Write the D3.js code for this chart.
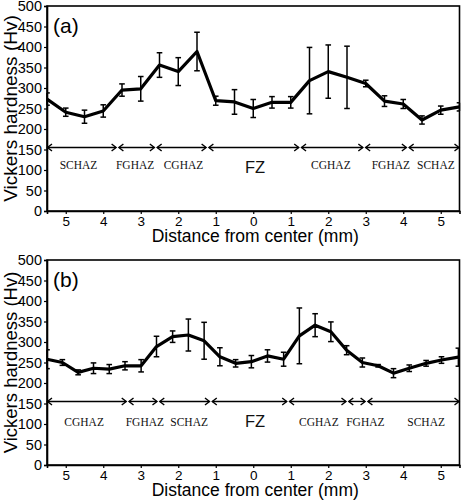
<!DOCTYPE html>
<html>
<head>
<meta charset="utf-8">
<script src="https://cdn.jsdelivr.net/npm/d3@7"></script>
<style>
  html, body { margin: 0; padding: 0; background: #fff; }
  svg { display: block; }
</style>
</head>
<body>
<div id="chart"></div>
<script>
// ---------- data ----------
const yTicks = [0, 50, 100, 150, 200, 250, 300, 350, 400, 450, 500];
const xTicks = [-5, -4, -3, -2, -1, 0, 1, 2, 3, 4, 5];

// Panel (a)
const posA = [-5.5, -5, -4.5, -4, -3.5, -3, -2.5, -2, -1.5, -1, -0.5, 0, 0.5, 1, 1.5, 2, 2.5, 3, 3.5, 4, 4.5, 5, 5.5];
const hvA  = [273, 241, 230, 244, 295, 298, 356, 340, 389, 269, 266, 250, 265, 265, 318, 340, 326, 311, 268, 261, 222, 246, 254];
const errA = [15, 10, 16, 15, 15, 30, 30, 34, 47, 11, 30, 22, 14, 14, 81, 65, 76, 8, 13, 11, 10, 10, 10];
const zoneEdgesA  = [-5.5, -3.62, -2.6, -1.22, 1.25, 2.96, 4.12, 5.5];
const zoneNamesA  = ["SCHAZ", "FGHAZ", "CGHAZ", "FZ", "CGHAZ", "FGHAZ", "SCHAZ"];
const zoneLabelXA = [-4.66, -3.15, -1.86, 0.05, 2.07, 3.67, 4.87];

// Panel (b)
const posB = [-5.5, -5.09, -4.67, -4.26, -3.84, -3.42, -2.99, -2.58, -2.15, -1.73, -1.31, -0.89, -0.47, -0.05, 0.38, 0.81, 1.23, 1.65, 2.07, 2.49, 2.91, 3.33, 3.74, 4.16, 4.61, 5.02, 5.47];
const hvB  = [258, 250, 226, 236, 234, 242, 242, 289, 313, 317, 303, 264, 248, 252, 266, 258, 315, 341, 325, 280, 250, 242, 224, 236, 248, 256, 263];
const errB = [23, 7, 6, 13, 11, 10, 15, 25, 14, 39, 45, 22, 9, 15, 15, 17, 68, 28, 24, 11, 11, 3, 11, 8, 7, 8, 22];
const zoneEdgesB  = [-5.5, -3.35, -2.53, -1.13, 0.93, 2.51, 3.02, 5.5];
const zoneNamesB  = ["CGHAZ", "FGHAZ", "SCHAZ", "FZ", "CGHAZ", "FGHAZ", "SCHAZ"];
const zoneLabelXB = [-4.51, -2.89, -1.71, 0.05, 1.75, 2.99, 4.61];

const zoneLineHv = 155;

// ---------- drawing ----------
const W = 463, H = 500;
const svg = d3.select("#chart").append("svg").attr("width", W).attr("height", H);

const SANS = "Arial, 'Liberation Sans', Helvetica, sans-serif";
const SERIF = "'Times New Roman', 'Liberation Serif', Times, serif";

function panel(cfg) {
  const left = 47, right = 459.5;
  const x = d3.scaleLinear().domain([-5.5, 5.5]).range([left, right]);
  const y = d3.scaleLinear().domain([0, 500]).range([cfg.bottom, cfg.top]);
  const g = svg.append("g");

  // frame
  g.append("rect")
    .attr("x", left).attr("y", cfg.top)
    .attr("width", right - left).attr("height", cfg.bottom - cfg.top)
    .attr("fill", "none").attr("stroke", "#000").attr("stroke-width", 1.6);

  // y axis
  const ya = g.append("g").attr("transform", `translate(${left},0)`)
    .call(d3.axisLeft(y).tickValues(yTicks).tickSize(3).tickPadding(2));
  ya.select(".domain").attr("stroke-width", 1.6);
  ya.selectAll("line").attr("stroke-width", 1.2);
  ya.selectAll("text").attr("font-family", SANS).attr("font-size", 14.5).attr("fill", "#000");

  // x axis
  const xa = g.append("g").attr("transform", `translate(0,${cfg.bottom})`)
    .call(d3.axisBottom(x).tickValues(xTicks).tickSize(3).tickPadding(2)
      .tickFormat(d => Math.abs(d)));
  xa.select(".domain").attr("stroke-width", 1.6);
  xa.selectAll("line").attr("stroke-width", 1.2);
  xa.selectAll("text").attr("font-family", SANS).attr("font-size", 13.5).attr("fill", "#000");

  // axis titles
  g.append("text")
    .attr("x", (left + right) / 2 + 2).attr("y", cfg.bottom + 31)
    .attr("text-anchor", "middle").attr("font-family", SANS).attr("font-size", 17.5)
    .attr("fill", "#000").text("Distance from center (mm)");
  g.append("text")
    .attr("transform", `translate(17,${(cfg.top + cfg.bottom) / 2}) rotate(-90)`)
    .attr("text-anchor", "middle").attr("font-family", SANS).attr("font-size", cfg.ytitleSize)
    .attr("fill", "#000").text("Vickers hardness (Hv)");

  // panel letter
  g.append("text")
    .attr("x", 53).attr("y", cfg.top + 27)
    .attr("font-family", SANS).attr("font-size", 21).attr("fill", "#000")
    .text(cfg.letter);

  // zone arrows
  const yz = y(zoneLineHv);
  const ah = 4.5, aw = 3.5, gap = 1.4;
  const zg = g.append("g").attr("stroke", "#000").attr("fill", "none").attr("stroke-width", 1.4);
  for (let i = 0; i < cfg.edges.length - 1; i++) {
    const x0 = x(cfg.edges[i]) + (i === 0 ? 0.5 : gap);
    const x1 = x(cfg.edges[i + 1]) - (i === cfg.edges.length - 2 ? 0.5 : gap);
    zg.append("line").attr("x1", x0).attr("x2", x1).attr("y1", yz).attr("y2", yz);
    zg.append("path").attr("d", `M${x0 + ah},${yz - aw}L${x0},${yz}L${x0 + ah},${yz + aw}`);
    zg.append("path").attr("d", `M${x1 - ah},${yz - aw}L${x1},${yz}L${x1 - ah},${yz + aw}`);
  }
  cfg.names.forEach((nm, i) => {
    const isFZ = nm === "FZ";
    g.append("text")
      .attr("x", x(cfg.labelX[i]))
      .attr("y", y(isFZ ? cfg.fzHv : cfg.labelHv))
      .attr("dy", "0.35em")
      .attr("text-anchor", "middle")
      .attr("font-family", isFZ ? SANS : SERIF)
      .attr("font-size", isFZ ? 16.5 : 11.5)
      .attr("fill", "#111")
      .text(nm);
  });

  // error bars
  const eg = g.append("g").attr("stroke", "#000").attr("stroke-width", 1.5);
  cfg.pos.forEach((p, i) => {
    const cx = x(p), lo = y(cfg.hv[i] - cfg.err[i]), hi = y(cfg.hv[i] + cfg.err[i]);
    const yTop = Math.max(hi, cfg.top);
    eg.append("line").attr("x1", cx).attr("x2", cx).attr("y1", lo).attr("y2", yTop);
    const cl = Math.max(cx - 2.8, left), cr = Math.min(cx + 2.8, right);
    eg.append("line").attr("x1", cl).attr("x2", cr).attr("y1", lo).attr("y2", lo);
    eg.append("line").attr("x1", cl).attr("x2", cr).attr("y1", yTop).attr("y2", yTop);
  });

  // line
  const line = d3.line().x((d, i) => x(cfg.pos[i])).y(d => y(d));
  g.append("path").datum(cfg.hv)
    .attr("d", line)
    .attr("fill", "none").attr("stroke", "#000").attr("stroke-width", 3.2)
    .attr("stroke-linejoin", "round");
}

panel({ top: 6, bottom: 211, letter: "(a)", pos: posA, hv: hvA, err: errA,
        edges: zoneEdgesA, names: zoneNamesA, labelX: zoneLabelXA, labelHv: 112, fzHv: 106, ytitleSize: 19 });
panel({ top: 260, bottom: 465, letter: "(b)", pos: posB, hv: hvB, err: errB,
        edges: zoneEdgesB, names: zoneNamesB, labelX: zoneLabelXB, labelHv: 105, fzHv: 107, ytitleSize: 18.5 });
</script>
</body>
</html>
